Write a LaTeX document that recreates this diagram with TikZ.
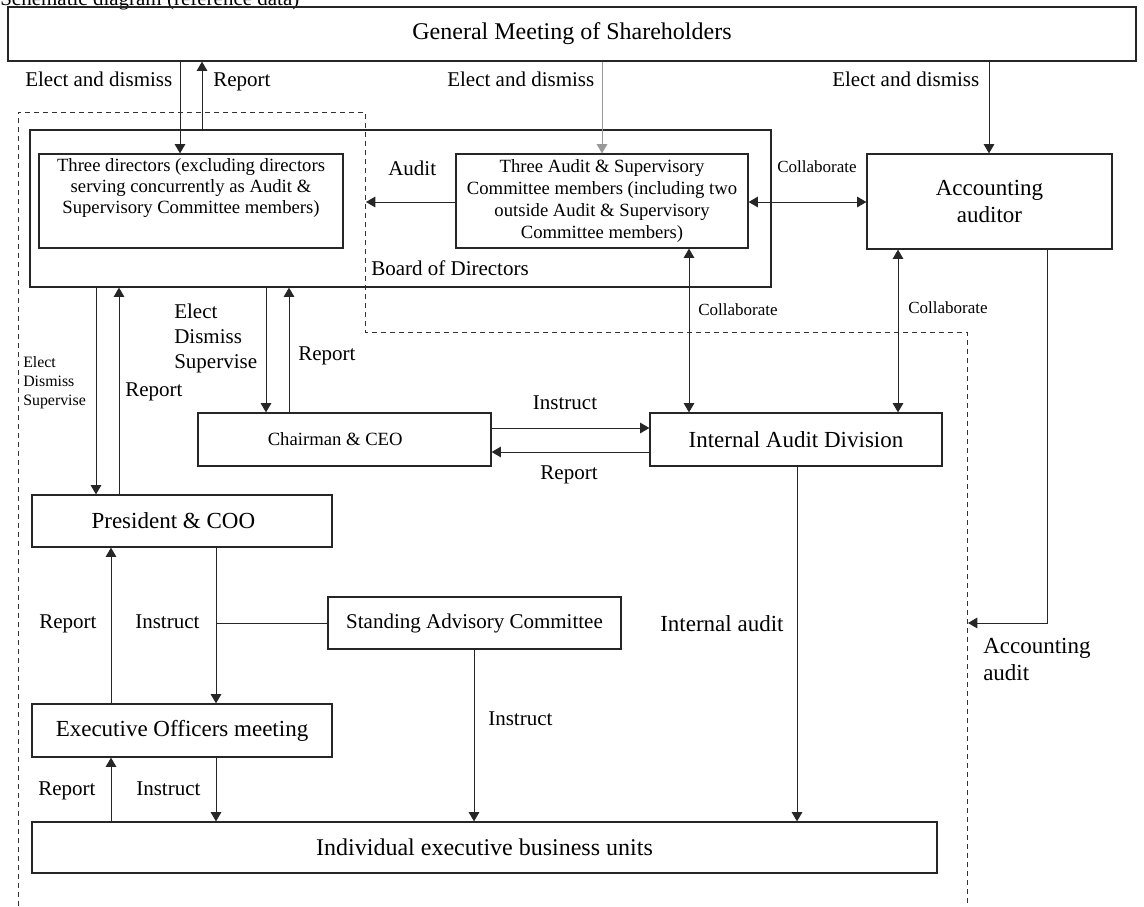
\documentclass[tikz,border=0pt]{standalone}
\usepackage{fontspec}
\setmainfont{Liberation Serif}
\usetikzlibrary{arrows.meta,calc}
\begin{document}
\begin{tikzpicture}[x=0.75pt,y=-0.75pt,
  box/.style={draw=black!85,line width=0.95pt,inner sep=0pt,align=center},
  ln/.style={draw=black!85,line width=0.75pt},
  arr/.style={ln,-{Triangle[length=7pt,width=8pt]}},
  dbl/.style={ln,{Triangle[length=7pt,width=8pt]}-{Triangle[length=7pt,width=8pt]}},
  lab/.style={inner sep=0pt,align=left},
  fa/.style={font=\fontsize{15.75}{18.4}\selectfont},
  fb/.style={font=\fontsize{17.25}{20.25}\selectfont},
  fc/.style={font=\fontsize{18}{21}\selectfont},
  fd/.style={font=\fontsize{14}{15.9}\selectfont},
  fe/.style={font=\fontsize{12.75}{15}\selectfont},
  ff/.style={font=\fontsize{11.9}{14.25}\selectfont},
  dashline/.style={draw=black!80,line width=0.7pt,dash pattern=on 3.75pt off 3pt}
]
\useasboundingbox (0,0) rectangle (1144,906);

% title (clipped at top, as in the reference)
\node[lab,fa,anchor=base west] (title) at (0,6) {Schematic diagram (reference data)};

% dashed group outline
\draw[dashline] (18,906) -- (18,112) -- (365,112) -- (365,332) -- (967,332) -- (967,906);

% boxes
\node[box,fc,minimum width=846pt,minimum height=40.5pt] (gms) at (572,34) {General Meeting of Shareholders};
\node[box,minimum width=555.75pt,minimum height=117.75pt] (board) at (400.5,208.5) {};
\node[box,minimum width=228pt,minimum height=70.5pt] (td) at (191,201) {};
\node[lab,fd,align=center,anchor=north] (tdtext) at (191,158) {Three directors (excluding directors\\serving concurrently as Audit \&\\Supervisory Committee members)};
\node[box,fd,font=\fontsize{14}{16.5}\selectfont,minimum width=219pt,minimum height=70.5pt] (asc) at (602,201) {Three Audit \& Supervisory\\Committee members (including two\\outside Audit \& Supervisory\\Committee members)};
\node[box,fb,minimum width=183.75pt,minimum height=71.25pt] (acc) at (989.5,201.5) {Accounting\\auditor};
\node[box,fd,minimum width=219.75pt,minimum height=39.75pt] (ceo) at (344.5,439.5) {Chairman \& CEO\hspace{14pt}};
\node[box,fb,minimum width=219pt,minimum height=39.75pt] (iad) at (796,439.5) {Internal Audit Division};
\node[box,fb,minimum width=225pt,minimum height=39pt] (pres) at (182,521) {President \& COO\hspace{13pt}};
\node[box,fa,minimum width=219.75pt,minimum height=39pt] (sac) at (474.5,623) {Standing Advisory Committee};
\node[box,fb,minimum width=225pt,minimum height=39.75pt] (exec) at (182,730.5) {Executive Officers meeting};
\node[box,fc,minimum width=678.75pt,minimum height=38.25pt] (ind) at (484.5,847.5) {Individual executive business units};

% free-end coordinates
\coordinate (dashA) at (366,202);
\coordinate (dashB) at (968,623);
\coordinate (junc) at (216,623);

% GMS connections
\draw[arr] (180,0 |- gms.south) -- (180,0 |- td.north);
\draw[arr] (202,0 |- board.north) -- (202,0 |- gms.south);
\draw[arr,draw=black!40] (602,0 |- gms.south) -- (602,0 |- asc.north);
\draw[arr] (989,0 |- gms.south) -- (989,0 |- acc.north);

% audit committee
\draw[arr] (asc.west |- 0,202) -- (dashA);
\draw[dbl] (asc.east |- 0,202) -- (acc.west |- 0,202);
\draw[dbl] (689,0 |- asc.south) -- (689,0 |- iad.north);
\draw[dbl] (898,0 |- acc.south) -- (898,0 |- iad.north);

% board to president / chairman
\draw[arr] (96,0 |- board.south) -- (96,0 |- pres.north);
\draw[arr] (119,0 |- pres.north) -- (119,0 |- board.south);
\draw[arr] (266,0 |- board.south) -- (266,0 |- ceo.north);
\draw[arr] (289,0 |- ceo.north) -- (289,0 |- board.south);

% chairman <-> internal audit
\draw[arr] (ceo.east |- 0,428) -- (iad.west |- 0,428);
\draw[arr] (iad.west |- 0,452) -- (ceo.east |- 0,452);

% internal audit / accounting audit
\draw[arr] (797,0 |- iad.south) -- (797,0 |- ind.north);
\draw[arr] (1047,0 |- acc.south) |- (dashB);

% president, advisory, executive officers
\draw[arr] (216,0 |- pres.south) -- (216,0 |- exec.north);
\draw[ln] (junc) -- (sac.west |- junc);
\draw[arr] (111,0 |- exec.north) -- (111,0 |- pres.south);
\draw[arr] (474,0 |- sac.south) -- (474,0 |- ind.north);
\draw[arr] (216,0 |- exec.south) -- (216,0 |- ind.north);
\draw[arr] (111,0 |- ind.north) -- (111,0 |- exec.south);

% labels
\node[lab,fa,anchor=base west] (l1) at (25,86) {Elect and dismiss};
\node[lab,fa,anchor=base west] (l2) at (213,86) {Report};
\node[lab,fa,anchor=base west] (l3) at (447,86) {Elect and dismiss};
\node[lab,fa,anchor=base west] (l4) at (832,86) {Elect and dismiss};
\node[lab,fa,anchor=base west] (l5) at (388,175) {Audit};
\node[lab,fe,anchor=base west] (l6) at (777,172) {Collaborate};
\node[lab,fa,anchor=base west] (l7) at (371,275) {Board of Directors};
\node[lab,fe,anchor=base west] (l8) at (698,315) {Collaborate};
\node[lab,fe,anchor=base west] (l9) at (908,313) {Collaborate};
\node[lab,ff,anchor=north west] (l10) at (23,356) {Elect\\Dismiss\\Supervise};
\node[lab,fa,font=\fontsize{15.75}{18.6}\selectfont,anchor=north west] (l11) at (174,304) {Elect\\Dismiss\\Supervise};
\node[lab,fa,anchor=base west] (l12) at (125,396) {Report};
\node[lab,fa,anchor=base west] (l13) at (298,360) {Report};
\node[lab,fa,anchor=base] (l14) at (565,409) {Instruct};
\node[lab,fa,anchor=base] (l15) at (569,479) {Report};
\node[lab,fa,anchor=base west] (l16) at (39,628) {Report};
\node[lab,fa,anchor=base west] (l17) at (135,628) {Instruct};
\node[lab,fb,anchor=base west] (l18) at (660,631) {Internal audit};
\node[lab,fa,anchor=base west] (l19) at (488,725) {Instruct};
\node[lab,fb,anchor=north west] (l20) at (983,638) {Accounting\\audit};
\node[lab,fa,anchor=base west] (l21) at (38,795) {Report};
\node[lab,fa,anchor=base west] (l22) at (136,795) {Instruct};
\end{tikzpicture}
\end{document}
